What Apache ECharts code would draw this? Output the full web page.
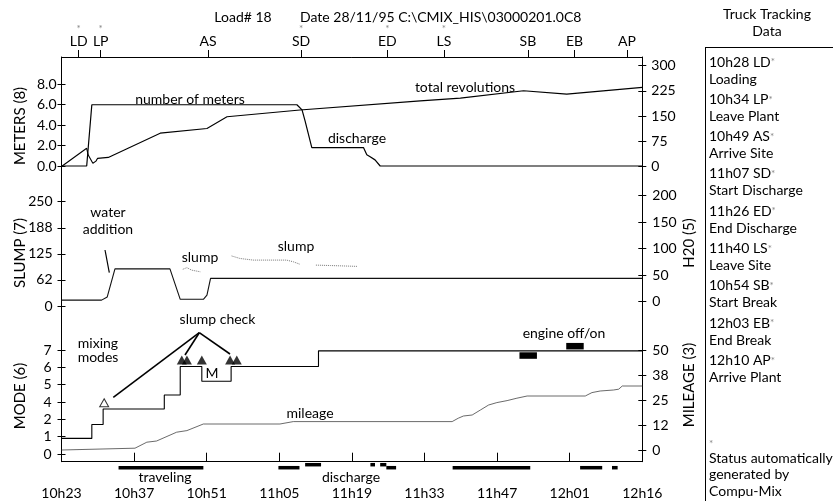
<!DOCTYPE html>
<html>
<head>
<meta charset="utf-8">
<script src="https://cdn.jsdelivr.net/npm/echarts@6/dist/echarts.min.js"></script>
<style>
  html, body { margin: 0; padding: 0; background: #fff; }
  #chart { width: 833px; height: 501px; }
</style>
</head>
<body>
<div id="chart"></div>
<script>
// ---- Time base: minutes after 10h23 ----
const spanMinutes = 113;
const timeLabels = ['10h23', '10h37', '10h51', '11h05', '11h19', '11h33', '11h47', '12h01', '12h16'];

// Truck status events along the top axis
const eventCodes = ['LD', 'LP', 'AS', 'SD', 'ED', 'LS', 'SB', 'EB', 'AP'];
const eventMinutes = [3.35, 7.63, 28.5, 46.6, 63.4, 74.4, 90.75, 99.8, 110.0];
const eventAuto = [true, true, false, true, true, true, false, false, false];

// Truck tracking list
const trackTimes = ['10h28', '10h34', '10h49', '11h07', '11h26', '11h40', '10h54', '12h03', '12h10'];
const trackNames = ['Loading', 'Leave Plant', 'Arrive Site', 'Start Discharge', 'End Discharge',
                    'Leave Site', 'Start Break', 'End Break', 'Arrive Plant'];

// Panel 1: number of meters (left) and total revolutions (right)
const metersMin = [0, 4.9, 5.9, 45.8, 46.8, 47.4, 48.7, 58.75, 59.4, 60.05, 61.0, 62.0, 113];
const metersVal = [0, 0, 6.0, 6.0, 5.5, 4.4, 1.8, 1.8, 1.1, 0.9, 0.6, 0, 0];
const revMin = [0, 4.9, 5.2, 6.1, 6.7, 7.0, 9.1, 19.2, 28.3, 32.2, 46.4, 69.8, 77.6, 89.9, 98.3, 113];
const revVal = [0, 54, 34, 9.5, 16, 24, 27, 99, 113, 148, 168, 195, 203, 225, 215, 235];

// Panel 2: water (right) and slump readings (left)
const waterMin = [0, 7.8, 8.9, 10.4, 21.1, 23.1, 27.6, 28.3, 29.0, 113];
const waterVal = [3, 3, 9, 62, 62, 4.5, 4.5, 12.5, 44, 44];
const slumpMin = [[23.6, 24.4, 25.3, 27.0], [33.1, 34.7, 37.3, 43.8, 45.1, 46.4], [49.5, 52.3, 57.5]];
const slumpVal = [[88, 92, 86, 82], [120, 114, 110, 110, 106, 100], [98, 97, 95]];
const slumpTicks = [0, 62.5, 125, 187.5, 250];
const slumpTickLabels = ['0', '62', '125', '188', '250'];

// Panel 3: mixing mode (left, by level) and mileage (right)
const modeTickLabels = ['0', '1', '2', '4', '5', '6', '7'];
const modeMin = [0, 5.9, 8.1, 20.0, 23.1, 27.3, 33.0, 50.0, 113];
const modeVal = [0.9, 1.7, 2.6, 3.4, 5.05, 4.2, 5.05, 5.95, 5.95];
const mileageMin = [0, 14.3, 16.6, 18.5, 22.4, 24.4, 27.6, 42.5, 45.1, 76.0, 77.2, 78.2, 79.9, 81.5,
                    83.1, 84.7, 86.7, 88.6, 90.6, 101.9, 103.2, 104.8, 107.4, 108.4, 109.1, 113];
const mileageVal = [0, 0.9, 3.9, 4.5, 8.9, 9.7, 13, 13, 14.2, 14.2, 15.9, 17, 17.5, 20,
                    22.5, 23.7, 24.7, 25.9, 27, 27, 28.7, 29.5, 30, 30.4, 32, 32];
const mileageTicks = [0, 12.5, 25, 37.5, 50];
const mileageTickLabels = ['0', '12', '25', '38', '50'];

// Slump checks (mode panel) and engine off/on periods
const slumpCheckMin = [23.4, 24.4, 27.3, 32.8, 34.1];
const slumpCheckLevel = [5.42, 5.42, 5.42, 5.42, 5.42];
const firstCheckMin = [8.3];
const firstCheckLevel = [2.96];
const engineStart = [89.1, 98.2];
const engineEnd = [92.5, 101.6];
const engineLevel = [5.68, 6.22];

// Activity bars under the time axis (row 0 lower, row 1 upper)
const statusStart = [11.1, 42.2, 47.4, 60.1, 62.0, 63.2, 76.1, 100.9, 107.1];
const statusEnd = [27.6, 46.3, 50.5, 61.0, 63.2, 65.1, 91.2, 105.2, 108.2];
const statusRow = [0, 0, 1, 1, 1, 0, 0, 0, 0];

// ---- helpers ----
const FONT = 'Lato';
const zip = (a, b) => a.map((v, i) => [v, b[i]]);
const nearestIndex = (arr, v) => {
  let best = 0;
  arr.forEach((a, i) => { if (Math.abs(a - v) < Math.abs(arr[best] - v)) best = i; });
  return best;
};
// axis extent so that value v0 sits at pixel y0 and v1 at y1 inside a grid spanning top..bottom
function extent(v0, y0, v1, y1, top, bottom) {
  const k = (y0 - y1) / (v1 - v0);
  return { min: v0 - (bottom - y0) / k, max: v0 + (y0 - top) / k };
}

const PL = 61.5, PR = 642.3;
const grids = [
  { top: 57, bottom: 180 },
  { top: 180, bottom: 320 },
  { top: 320, bottom: 461.7 },
  { top: 461.7, bottom: 470.7 }
];

const ext = {
  meters: extent(0, 166, 8, 84.3, 57, 180),
  rev: extent(0, 166.5, 300, 65.5, 57, 180),
  slump: extent(0, 306, 250, 201.7, 180, 320),
  water: extent(0, 301.7, 200, 195.7, 180, 320),
  mode: extent(0, 454, 6, 350, 320, 461.7),
  mileage: extent(0, 450, 50, 350, 320, 461.7)
};

function yAxis(gridIndex, position, e, ticks, fmt, margin) {
  const base = {
    type: 'value', gridIndex, position, min: e.min, max: e.max,
    splitLine: { show: false },
    axisLine: { show: true, onZero: false, lineStyle: { color: '#000', width: 1 } }
  };
  return [
    Object.assign({}, base, {
      axisTick: { show: true, inside: false, length: 4, customValues: ticks, lineStyle: { color: '#000' } },
      axisLabel: {
        show: true, customValues: ticks, margin, color: '#000', fontFamily: FONT, fontSize: 14,
        formatter: v => fmt(nearestIndex(ticks, v))
      }
    }),
    Object.assign({}, base, {
      axisLine: { show: false, onZero: false },
      axisTick: { show: true, inside: true, length: 4, customValues: ticks, lineStyle: { color: '#000' } },
      axisLabel: { show: false }
    })
  ];
}

const meterTicks = [0, 2, 4, 6, 8];
const revTicks = [0, 75, 150, 225, 300];
const waterTicks = [0, 50, 100, 150, 200];
const modeTicks = modeTickLabels.map((_, i) => i);

const yAxes = [].concat(
  yAxis(0, 'left', ext.meters, meterTicks, i => meterTicks[i].toFixed(1), 5),      // 0,1
  yAxis(0, 'right', ext.rev, revTicks, i => String(revTicks[i]), 9),                // 2,3
  yAxis(1, 'left', ext.slump, slumpTicks, i => slumpTickLabels[i], 9),             // 4,5
  yAxis(1, 'right', ext.water, waterTicks, i => String(waterTicks[i]), 10),         // 6,7
  yAxis(2, 'left', ext.mode, modeTicks, i => modeTickLabels[i], 10),               // 8,9
  yAxis(2, 'right', ext.mileage, mileageTicks, i => mileageTickLabels[i], 10),      // 10,11
  [{ type: 'value', gridIndex: 3, min: -1, max: 2, show: false }]                  // 12
);

const timeTicks = timeLabels.map((_, i) => i * spanMinutes / (timeLabels.length - 1));

const xAxes = [
  {
    type: 'value', gridIndex: 0, position: 'top', min: 0, max: spanMinutes,
    splitLine: { show: false },
    axisLine: { show: true, onZero: false, lineStyle: { color: '#000', width: 1 } },
    axisTick: { show: true, inside: false, length: 7, customValues: eventMinutes, lineStyle: { color: '#000' } },
    axisLabel: {
      customValues: eventMinutes, margin: 8,
      formatter: v => {
        const i = nearestIndex(eventMinutes, v);
        return (eventAuto[i] ? '{s|*}' : '{s| }') + '\n{c|' + eventCodes[i] + '}';
      },
      rich: {
        s: { fontSize: 10, color: '#888', lineHeight: 9, fontFamily: FONT, align: 'center' },
        c: { fontSize: 14, color: '#000', lineHeight: 16, fontFamily: FONT, align: 'center' }
      }
    }
  },
  { type: 'value', gridIndex: 1, min: 0, max: spanMinutes, show: false, axisLine: { onZero: false } },
  {
    type: 'value', gridIndex: 2, position: 'bottom', min: 0, max: spanMinutes,
    splitLine: { show: false },
    axisLine: { show: true, onZero: false, lineStyle: { color: '#000', width: 1 } },
    axisTick: { show: true, inside: true, length: 9, customValues: timeTicks, lineStyle: { color: '#000' } },
    axisLabel: {
      customValues: timeTicks, margin: 25, color: '#000', fontFamily: FONT, fontSize: 14,
      formatter: v => timeLabels[nearestIndex(timeTicks, v)]
    }
  },
  { type: 'value', gridIndex: 3, min: 0, max: spanMinutes, show: false, axisLine: { onZero: false } }
];

const lineBase = { type: 'line', showSymbol: false, symbol: 'none', silent: true, animation: false, clip: false };

function barItem(height) {
  return function (params, api) {
    const p0 = api.coord([api.value(0), api.value(2)]);
    const p1 = api.coord([api.value(1), api.value(2)]);
    return {
      type: 'rect',
      shape: { x: p0[0], y: p0[1] - height / 2, width: p1[0] - p0[0], height },
      style: { fill: '#000' }
    };
  };
}

const series = [
  Object.assign({}, lineBase, { name: 'number of meters', xAxisIndex: 0, yAxisIndex: 0, z: 5,
    data: zip(metersMin, metersVal), lineStyle: { color: '#000', width: 1.2 } }),
  Object.assign({}, lineBase, { name: 'total revolutions', xAxisIndex: 0, yAxisIndex: 2,
    data: zip(revMin, revVal), lineStyle: { color: '#000', width: 1.1 } }),
  Object.assign({}, lineBase, { name: 'H20', xAxisIndex: 1, yAxisIndex: 6,
    data: zip(waterMin, waterVal), lineStyle: { color: '#111', width: 1.1 } })
].concat(
  slumpMin.map((m, k) => Object.assign({}, lineBase, { name: 'slump', xAxisIndex: 1, yAxisIndex: 4,
    data: zip(m, slumpVal[k]), lineStyle: { color: '#777', width: 1, type: 'dotted' } })),
  [
    Object.assign({}, lineBase, { name: 'mode', xAxisIndex: 2, yAxisIndex: 8, step: 'end',
      data: zip(modeMin, modeVal), lineStyle: { color: '#000', width: 1.1 } }),
    Object.assign({}, lineBase, { name: 'mileage', xAxisIndex: 2, yAxisIndex: 10,
      data: zip(mileageMin, mileageVal), lineStyle: { color: '#444', width: 0.8 } }),
    { type: 'scatter', name: 'slump check', xAxisIndex: 2, yAxisIndex: 8, silent: true, animation: false,
      symbol: 'triangle', symbolSize: [10, 9], itemStyle: { color: '#000' },
      data: zip(slumpCheckMin, slumpCheckLevel) },
    { type: 'scatter', name: 'first check', xAxisIndex: 2, yAxisIndex: 8, silent: true, animation: false,
      symbol: 'triangle', symbolSize: [9, 8], itemStyle: { color: '#fff', borderColor: '#000', borderWidth: 1 },
      data: zip(firstCheckMin, firstCheckLevel) },
    { type: 'custom', name: 'engine off/on', xAxisIndex: 2, yAxisIndex: 8, silent: true, animation: false,
      renderItem: barItem(6.5), encode: { x: [0, 1], y: 2 },
      data: engineStart.map((s, i) => [s, engineEnd[i], engineLevel[i]]) },
    { type: 'custom', name: 'activity', xAxisIndex: 3, yAxisIndex: 12, silent: true, animation: false,
      renderItem: barItem(3.5), encode: { x: [0, 1], y: 2 },
      data: statusStart.map((s, i) => [s, statusEnd[i], statusRow[i]]) }
  ]
);

// ---- text and annotation graphics ----
const g = [];
function txt(text, x, y, opt) {
  g.push(Object.assign({ type: 'text', x, y, silent: true,
    style: Object.assign({ text, fontFamily: FONT, fontSize: 14, fill: '#000',
      align: 'center', verticalAlign: 'middle' }, (opt && opt.style) || {}) },
    (opt && opt.el) || {}));
}
function seg(x1, y1, x2, y2, w) {
  g.push({ type: 'line', silent: true, shape: { x1, y1, x2, y2 },
    style: { stroke: '#000', lineWidth: w || 1 } });
}

txt('Load# 18', 243, 17);
txt('Date 28/11/95 C:\\CMIX_HIS\\03000201.0C8', 300, 17, { style: { align: 'left' } });

// axis names
const upright = { el: { rotation: Math.PI / 2 }, style: { fontSize: 15 } };
txt('METERS (8)', 20, 126, upright);
txt('SLUMP (7)', 20, 253, upright);
txt('MODE (6)', 20, 396, upright);
txt('H20 (5)', 689, 243, upright);
txt('MILEAGE (3)', 689, 385, upright);

// in-plot annotations
txt('number of meters', 190, 99);
txt('total revolutions', 465, 87);
txt('discharge', 357, 138);
txt('water', 108, 212);
txt('addition', 108, 229);
seg(105, 250, 109.3, 272.7, 1.2);
txt('slump', 200, 257);
txt('slump', 296, 246);
txt('slump check', 217.5, 319);
seg(199.3, 332.7, 113.3, 397.3, 1.6);
seg(199.3, 332.7, 185, 355, 1.6);
seg(199.3, 332.7, 230, 354, 1.6);
txt('mixing', 98, 343);
txt('modes', 98, 357);
txt('M', 212, 373);
txt('mileage', 310, 413);
txt('engine off/on', 564, 333);
txt('traveling', 165, 477);
txt('discharge', 351, 477);

// truck tracking panel
txt('Truck Tracking', 767, 14);
txt('Data', 767, 31);
seg(705, 47.5, 833, 47.5, 1);
seg(705.5, 47, 705.5, 501, 1);
const left = { style: { align: 'left', rich: {
  t: { fontFamily: FONT, fontSize: 14, fill: '#000' },
  s: { fontFamily: FONT, fontSize: 10, fill: '#888' } } } };
trackTimes.forEach((t, i) => {
  const y = 62 + i * 37.3;
  txt('{t|' + t + ' ' + eventCodes[i] + '}{s|*}', 709, y, left);
  txt(trackNames[i], 709, y + 17, { style: { align: 'left' } });
});
txt('*', 709, 444, { style: { align: 'left', fontSize: 10, fill: '#888' } });
txt('Status automatically', 709, 458, { style: { align: 'left' } });
txt('generated by', 709, 474.5, { style: { align: 'left' } });
txt('Compu-Mix', 709, 491, { style: { align: 'left' } });

const chart = echarts.init(document.getElementById('chart'), null, { renderer: 'canvas' });
chart.setOption({
  backgroundColor: '#fff',
  animation: false,
  textStyle: { fontFamily: FONT },
  grid: grids.map(gr => ({ left: PL, right: 833 - PR, top: gr.top, height: gr.bottom - gr.top, containLabel: false })),
  xAxis: xAxes,
  yAxis: yAxes,
  series,
  graphic: g
});
</script>
</body>
</html>
